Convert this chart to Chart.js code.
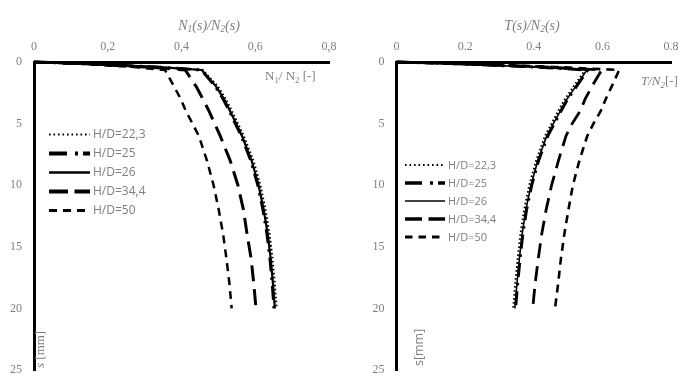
<!DOCTYPE html>
<html><head><meta charset="utf-8">
<script src="https://cdn.jsdelivr.net/npm/chart.js@4"></script>
<style>
html,body{margin:0;padding:0;background:#fff;}
#wrap{position:relative;width:695px;height:391px;overflow:hidden;}
#c1{position:absolute;left:0;top:0;}
#c2{position:absolute;left:350px;top:0;}
</style></head><body>
<div id="wrap"><canvas id="c1" width="350" height="391" style="width:350px;height:391px"></canvas><canvas id="c2" width="345" height="391" style="width:345px;height:391px"></canvas></div>
<script>
// ---------- data ----------
const seriesLabels = ['H/D=22,3', 'H/D=25', 'H/D=26', 'H/D=34,4', 'H/D=50'];
const sValues = [0, 0.15, 0.4, 0.65, 2, 3, 4, 5, 6, 8, 10, 12, 14, 16, 18, 20];
const xTicks = [0, 0.2, 0.4, 0.6, 0.8];
const yTicks = [0, 5, 10, 15, 20, 25];

// left panel: N1(s)/N2(s)
const n_hd223 = [0, 0.15, 0.33, 0.458, 0.499, 0.520, 0.537, 0.553, 0.569, 0.595, 0.614, 0.628, 0.639, 0.647, 0.653, 0.658];
const n_hd25  = [0, 0.15, 0.33, 0.454, 0.492, 0.513, 0.530, 0.546, 0.562, 0.588, 0.607, 0.621, 0.632, 0.640, 0.646, 0.651];
const n_hd26  = [0, 0.15, 0.33, 0.455, 0.494, 0.515, 0.532, 0.548, 0.564, 0.590, 0.609, 0.623, 0.634, 0.642, 0.648, 0.653];
const n_hd344 = [0, 0.14, 0.30, 0.410, 0.440, 0.458, 0.475, 0.490, 0.505, 0.532, 0.553, 0.568, 0.578, 0.589, 0.596, 0.602];
const n_hd50  = [0, 0.13, 0.27, 0.355, 0.380, 0.398, 0.412, 0.430, 0.447, 0.469, 0.487, 0.501, 0.513, 0.522, 0.530, 0.536];

// right panel: T(s)/N2(s)
const t_hd223 = [0, 0.18, 0.40, 0.550, 0.516, 0.491, 0.471, 0.452, 0.433, 0.407, 0.387, 0.372, 0.361, 0.353, 0.346, 0.340];
const t_hd25  = [0, 0.18, 0.40, 0.557, 0.524, 0.499, 0.479, 0.460, 0.441, 0.414, 0.394, 0.379, 0.368, 0.360, 0.353, 0.347];
const t_hd26  = [0, 0.18, 0.40, 0.555, 0.522, 0.497, 0.477, 0.457, 0.438, 0.412, 0.392, 0.377, 0.366, 0.358, 0.351, 0.345];
const t_hd344 = [0, 0.19, 0.43, 0.598, 0.569, 0.550, 0.535, 0.512, 0.494, 0.472, 0.452, 0.436, 0.423, 0.413, 0.404, 0.397];
const t_hd50  = [0, 0.20, 0.46, 0.649, 0.627, 0.610, 0.595, 0.574, 0.556, 0.533, 0.514, 0.501, 0.489, 0.479, 0.471, 0.462];

// ---------- styles ----------
const GRAY = '#7f7f7f';
const SERIF = '"Liberation Serif", "Times New Roman", serif';
const SANS = '"Open Sans", "Liberation Sans", sans-serif';
const stylesL = [
  {w: 2,   dash: [1.6, 2.4], lw: 2,   ldash: [1.6, 2.9]},
  {w: 3,   dash: [14, 6, 2.5, 6], lw: 3.8, ldash: [18, 8, 3, 5]},
  {w: 2.2, dash: [],        lw: 2.6, ldash: []},
  {w: 3,   dash: [16, 8],   lw: 3.8, ldash: [19, 6.5]},
  {w: 2.5, dash: [8, 6],    lw: 2.8, ldash: [8, 6]}
];
const stylesR = [
  {w: 2,   dash: [1.6, 2.4], lw: 2,   ldash: [1.6, 2.9]},
  {w: 3,   dash: [14, 6, 2.5, 6], lw: 3.5, ldash: [17, 8, 3, 5]},
  {w: 1.6, dash: [],        lw: 1.6, ldash: []},
  {w: 2.8, dash: [15, 8],   lw: 3.5, ldash: [17, 6.5]},
  {w: 2.6, dash: [8, 6],    lw: 2.8, ldash: [7.5, 6]}
];

function makeDatasets(arrs, styles) {
  return arrs.map((vals, k) => ({
    label: seriesLabels[k],
    data: vals.map((v, i) => ({x: v, y: sValues[i]})),
    showLine: true,
    borderColor: '#000',
    backgroundColor: '#000',
    borderWidth: styles[k].w,
    borderDash: styles[k].dash,
    legendWidth: styles[k].lw,
    legendDash: styles[k].ldash,
    pointRadius: 0,
    pointHoverRadius: 0,
    tension: 0,
    fill: false,
    clip: 4
  }));
}

// rich text: parts = [[text, flags]] flags: 'i' italic, 's' subscript
function richWidth(ctx, parts, size, family) {
  let w = 0;
  for (const [t, f] of parts) {
    const sz = f.includes('s') ? size * 0.68 : size;
    ctx.font = (f.includes('i') ? 'italic ' : '') + sz + 'px ' + family;
    w += ctx.measureText(t).width;
  }
  return w;
}
function drawRich(ctx, x, y, parts, size, family, color, align) {
  ctx.save();
  ctx.fillStyle = color;
  ctx.textBaseline = 'middle';
  ctx.textAlign = 'left';
  const w = richWidth(ctx, parts, size, family);
  let cx = align === 'center' ? x - w / 2 : x;
  for (const [t, f] of parts) {
    const sub = f.includes('s');
    const sz = sub ? size * 0.68 : size;
    ctx.font = (f.includes('i') ? 'italic ' : '') + sz + 'px ' + family;
    ctx.fillText(t, cx, sub ? y + size * 0.28 : y);
    cx += ctx.measureText(t).width;
  }
  ctx.restore();
}

const decorPlugin = {
  id: 'decor',
  afterDraw(chart) {
    const o = chart.options.plugins.decor;
    const ctx = chart.ctx;
    // title
    drawRich(ctx, o.titleX, o.titleY, o.title, 14, SERIF, GRAY, 'center');
    // unit label inside plot
    drawRich(ctx, o.unitX, o.unitY, o.unit, 13, SERIF, GRAY, 'left');
    // rotated s[mm] label
    ctx.save();
    ctx.translate(o.sX, o.sY);
    ctx.rotate(-Math.PI / 2);
    drawRich(ctx, 0, 0, o.sLabel, o.sSize, o.sFamily, GRAY, 'left');
    ctx.restore();
    // legend
    const L = o.legend;
    chart.data.datasets.forEach((ds, i) => {
      const y = L.y + i * L.dy;
      ctx.save();
      ctx.strokeStyle = '#000';
      ctx.lineWidth = ds.legendWidth;
      ctx.setLineDash(ds.legendDash);
      ctx.lineCap = 'butt';
      ctx.beginPath();
      ctx.moveTo(L.x1, y);
      ctx.lineTo(L.x2, y);
      ctx.stroke();
      ctx.restore();
      ctx.save();
      ctx.fillStyle = GRAY;
      ctx.font = L.size + 'px ' + SANS;
      ctx.textBaseline = 'middle';
      ctx.textAlign = 'left';
      ctx.fillText(ds.label, L.tx, y + 0.5);
      ctx.restore();
    });
  }
};

function makeOptions(cfg) {
  return {
    responsive: false,
    animation: false,
    events: [],
    layout: {padding: {left: cfg.padLeft, right: cfg.padRight, top: 0, bottom: cfg.padBottom}},
    plugins: {
      legend: {display: false},
      tooltip: {enabled: false},
      decor: cfg.decor
    },
    scales: {
      x: {
        type: 'linear',
        position: 'top',
        min: 0, max: 0.8,
        afterBuildTicks: s => { s.ticks = xTicks.map(v => ({value: v})); },
        afterFit: s => { s.height = 62; },
        grid: {display: false, drawTicks: false},
        border: {display: true, color: '#000', width: 3},
        ticks: {
          padding: 8,
          color: GRAY,
          font: {family: SERIF, size: 12},
          maxRotation: 0,
          callback: cfg.xFmt
        }
      },
      y: {
        type: 'linear',
        position: 'left',
        reverse: true,
        min: 0, max: 25,
        afterBuildTicks: s => { s.ticks = yTicks.map(v => ({value: v})); },
        afterFit: s => { s.width = 34; },
        grid: {display: false, drawTicks: false},
        border: {display: true, color: '#000', width: 3},
        ticks: {
          padding: 12,
          color: GRAY,
          font: {family: SERIF, size: 12},
          callback: v => String(v)
        }
      }
    }
  };
}

new Chart(document.getElementById('c1'), {
  type: 'scatter',
  data: {datasets: makeDatasets([n_hd223, n_hd25, n_hd26, n_hd344, n_hd50], stylesL)},
  options: makeOptions({
    padLeft: 0, padRight: 21, padBottom: 21,
    xFmt: v => v === 0 ? '0' : v.toFixed(1).replace('.', ','),
    decor: {
      title: [['N', 'i'], ['1', 'is'], ['(s)/N', 'i'], ['2', 'is'], ['(s)', 'i']],
      titleX: 209, titleY: 26,
      unit: [['N', ''], ['1', 's'], ['/ N', ''], ['2', 's'], [' [-]', '']],
      unitX: 265, unitY: 77,
      sLabel: [['s', 'i'], [' [mm]', '']], sX: 41, sY: 368, sSize: 13, sFamily: SERIF,
      legend: {x1: 49, x2: 90, tx: 93, y: 134.5, dy: 19, size: 12}
    }
  }),
  plugins: [decorPlugin]
});

new Chart(document.getElementById('c2'), {
  type: 'scatter',
  data: {datasets: makeDatasets([t_hd223, t_hd25, t_hd26, t_hd344, t_hd50], stylesR)},
  options: makeOptions({
    padLeft: 12.5, padRight: 24, padBottom: 21,
    xFmt: v => v === 0 ? '0' : v.toFixed(1),
    decor: {
      title: [['T(s)/N', 'i'], ['2', 'is'], ['(s)', 'i']],
      titleX: 182, titleY: 26,
      unit: [['T/N', 'i'], ['2', 'is'], ['[-]', '']],
      unitX: 291, unitY: 82,
      sLabel: [['s[mm]', '']], sX: 69, sY: 366, sSize: 12.5, sFamily: SANS,
      legend: {x1: 55, x2: 95, tx: 98, y: 165, dy: 18, size: 11}
    }
  }),
  plugins: [decorPlugin]
});
</script>
</body></html>
